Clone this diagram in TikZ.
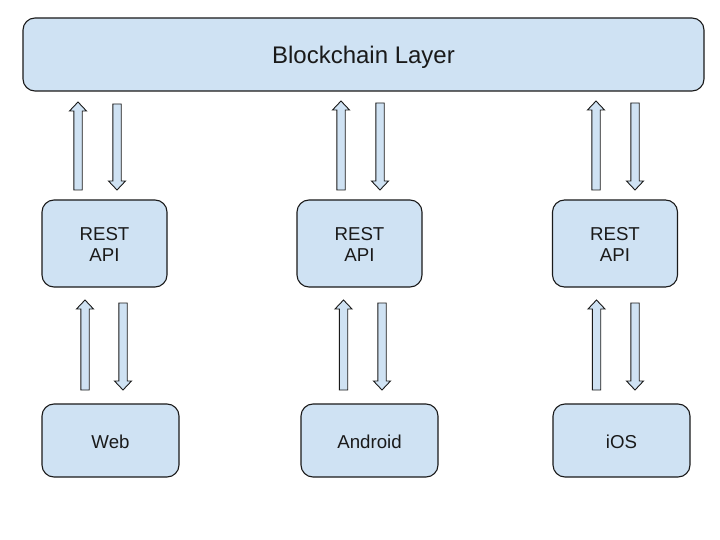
\documentclass[tikz,border=0pt]{standalone}
\usepackage{fontspec}
\setmainfont{Liberation Sans}
\definecolor{boxfill}{HTML}{CFE2F3}
\definecolor{ink}{HTML}{1A1A1A}
\tikzset{
  box/.style={draw=ink, fill=boxfill, line width=1.1pt, rounded corners=12pt, inner sep=0pt, align=center, text=ink},
  blk/.style={draw=ink, fill=boxfill, line width=0.9pt, line join=miter},
  big/.style={font=\fontsize{24}{28}\selectfont, text=ink},
  small/.style={font=\fontsize{18.67}{21.5}\selectfont, text=ink, align=center},
}
\newcommand{\upblk}[3]{\draw[blk] (#1-4.2,#3) -- (#1-4.2,#2+9) -- (#1-8.5,#2+9) -- (#1,#2) -- (#1+8.5,#2+9) -- (#1+4.2,#2+9) -- (#1+4.2,#3) -- cycle;}
\newcommand{\dnblk}[3]{\draw[blk] (#1-4.2,#2) -- (#1-4.2,#3-9) -- (#1-8.5,#3-9) -- (#1,#3) -- (#1+8.5,#3-9) -- (#1+4.2,#3-9) -- (#1+4.2,#2) -- cycle;}
\begin{document}
\begin{tikzpicture}[x=1pt,y=-1pt]
\useasboundingbox (0,0) rectangle (720,540);
\fill[white] (0,0) rectangle (720,540);
\node[box, minimum width=681pt, minimum height=73pt] (chain) at (363.5,54.5) {};
\node[big] (chaintxt) at ([yshift=-3pt]chain.center) {Blockchain Layer};
\foreach \n/\x in {api1/104.5, api2/359.5, api3/615}{
  \node[box, minimum width=125pt, minimum height=87pt] (\n) at (\x,243.5) {};
  \node[small] (\n txt) at ([yshift=-1pt]\n.center) {REST\\API};
}
\node[box, minimum width=137pt, minimum height=73pt] (web) at (110.5,440.5) {};
\node[small] (webtxt) at ([yshift=-1pt]web.center) {Web};
\node[box, minimum width=137pt, minimum height=73pt] (android) at (369.5,440.5) {};
\node[small] (androidtxt) at ([yshift=-1pt]android.center) {Android};
\node[box, minimum width=137pt, minimum height=73pt] (ios) at (621.5,440.5) {};
\node[small] (iostxt) at ([yshift=-1pt]ios.center) {iOS};
% upper arrows
\upblk{78}{102}{190}
\dnblk{117}{104}{190}
\upblk{341}{101}{190}
\dnblk{380}{103}{190}
\upblk{596}{101}{190}
\dnblk{635}{103}{190}
% lower arrows
\upblk{85}{300}{390}
\dnblk{123}{303}{390}
\upblk{343.5}{300}{390}
\dnblk{382}{303}{390}
\upblk{596.5}{300}{390}
\dnblk{635}{303}{390}
\end{tikzpicture}
\end{document}
